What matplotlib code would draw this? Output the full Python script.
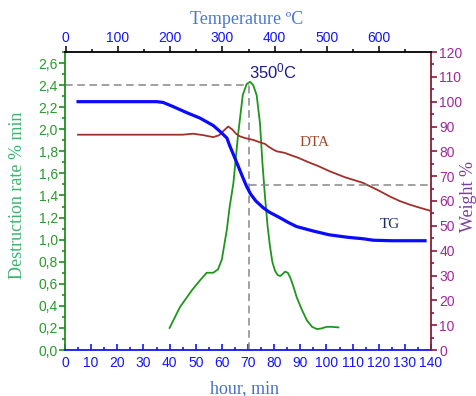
import matplotlib.pyplot as plt
from matplotlib.ticker import MultipleLocator, FuncFormatter

plt.rcParams['font.family'] = 'Liberation Sans'
plt.rcParams['mathtext.fontset'] = 'custom'
plt.rcParams['mathtext.rm'] = 'Liberation Sans'
plt.rcParams['mathtext.it'] = 'Liberation Sans'

# destruction rate (left axis) vs hour
rate_t = [40, 44, 48.5, 51.6, 54.2, 56.7, 58.5, 60, 61.9, 63, 64.4, 66.2, 68, 69.5,
          70.8, 72, 73.3, 74.6, 75.5, 76.5, 77.5, 78.4, 79.3, 80.3, 81.3, 82.3, 83.3,
          84.2, 85.2, 86.1, 87.3, 88.6, 90.5, 92.5, 94.5, 96.3, 98, 100.1, 102, 104.6]
rate_v = [0.2, 0.39, 0.54, 0.63, 0.70, 0.70, 0.73, 0.82, 1.09, 1.3, 1.51, 1.95, 2.31, 2.41,
          2.43, 2.40, 2.31, 2.05, 1.7, 1.39, 1.12, 0.94, 0.8, 0.72, 0.68, 0.67, 0.69,
          0.71, 0.70, 0.66, 0.58, 0.48, 0.37, 0.27, 0.21, 0.19, 0.195, 0.21, 0.21, 0.205]

# TG weight % (right axis)
tg_t = [5, 35, 37.5, 41.4, 46.5, 51.6, 56.7, 59.3, 61.9, 63.1, 64.5, 66.3, 68, 69.5, 71,
        73, 75.8, 78, 82.3, 85.5, 88.6, 95, 101, 108, 114, 118, 125, 137.7]
tg_v = [100, 100, 99.7, 98, 95.6, 93.4, 90.4, 88, 85.4, 82, 78.5, 73.9, 69.5, 65.8, 62.8,
        60, 57.3, 55.6, 53.2, 51.3, 49.7, 47.9, 46.4, 45.4, 44.8, 44.2, 44, 44]

# DTA curve (drawn on the right scale)
dta_t = [5, 45, 49, 53, 56.7, 59, 61, 62.4, 64, 65.5, 67, 69, 72, 74.6, 76.5, 77.7, 79.5,
         81, 84, 86, 89, 92.5, 97, 101.4, 107, 114, 120, 124.3, 128, 132, 136, 140]
dta_v = [86.7, 86.7, 87.1, 86.5, 85.7, 86.5, 88.6, 90, 88.8, 87, 86, 85.3, 84.6, 83.6, 83,
         82, 80.8, 80, 79.4, 78.6, 77.5, 75.9, 74, 71.9, 69.6, 67.3, 64.2, 61.8, 60, 58.5,
         57.2, 56]

peak_t = 70.5
peak_rate = 2.40
peak_weight = 66.5

GREEN = '#1f8f1f'
BLUE = '#1414ff'
MAROON = '#8b1a3a'
PURPLE = '#a0289a'

fig = plt.figure(figsize=(4.76, 3.96), dpi=100)
ax = fig.add_axes([65 / 476, 46 / 396, 366 / 476, 298 / 396])
ax2 = ax.twinx()
ax3 = ax.twiny()

ax.plot(rate_t, rate_v, color='#1e961e', lw=1.3)
ax.plot([0, peak_t], [peak_rate, peak_rate], color='#888888', lw=1.1, ls=(0, (5, 3)))
ax.plot([peak_t, peak_t], [0, peak_rate], color='#888888', lw=1.1, ls=(0, (5, 3)))

ax2.plot(dta_t, dta_v, color='#a0302a', lw=1.3)
ax2.plot(tg_t, tg_v, color='#0a0aff', lw=2.3)
ax2.plot([peak_t, 140], [peak_weight, peak_weight], color='#888888', lw=1.1, ls=(0, (5, 3)))

ax.set_xlim(0, 140)
ax.set_ylim(0, 2.7)
ax2.set_ylim(0, 120)
ax3.set_xlim(-1, 699)

ax.xaxis.set_major_locator(MultipleLocator(10))
ax.xaxis.set_minor_locator(MultipleLocator(5))
ax.yaxis.set_major_locator(MultipleLocator(0.2))
ax.yaxis.set_minor_locator(MultipleLocator(0.1))
ax.yaxis.set_major_formatter(FuncFormatter(lambda v, p: f'{v:.1f}'.replace('.', ',')))
ax2.yaxis.set_major_locator(MultipleLocator(10))
ax2.yaxis.set_minor_locator(MultipleLocator(5))
ax3.xaxis.set_major_locator(MultipleLocator(100))
ax3.xaxis.set_minor_locator(MultipleLocator(50))

for a in (ax, ax2, ax3):
    for s in a.spines.values():
        s.set_visible(False)
ax.spines['left'].set_visible(True)
ax.spines['left'].set_color(GREEN)
ax.spines['bottom'].set_visible(True)
ax.spines['bottom'].set_color(BLUE)
ax2.spines['right'].set_visible(True)
ax2.spines['right'].set_color(MAROON)
ax3.spines['top'].set_visible(True)
ax3.spines['top'].set_color('black')
for s in (ax.spines['left'], ax.spines['bottom'], ax2.spines['right'], ax3.spines['top']):
    s.set_linewidth(1.3)

ax.tick_params(axis='y', which='both', direction='out', color=GREEN, labelcolor='#2a9a2a',
               labelsize=10, width=1.2, pad=1)
ax.tick_params(axis='y', which='major', length=4)
ax.tick_params(axis='y', which='minor', length=2.5)
ax.tick_params(axis='x', which='both', direction='in', color=BLUE, labelcolor=BLUE,
               labelsize=10, width=1.2, pad=4)
ax.tick_params(axis='x', which='major', length=4)
ax.tick_params(axis='x', which='minor', length=2.5)
ax2.tick_params(axis='y', which='both', direction='out', color=MAROON, labelcolor=PURPLE,
                labelsize=10, width=1.2, pad=2)
ax2.tick_params(axis='y', which='major', length=4)
ax2.tick_params(axis='y', which='minor', length=2.5)
ax3.tick_params(axis='x', which='both', direction='out', color='black', labelcolor=BLUE,
                labelsize=10, width=1.1, pad=1)
ax3.tick_params(axis='x', which='major', length=4)
ax3.tick_params(axis='x', which='minor', length=2.5)

ax.text(79.6, 2.52, '350$^0$C', color='#1a1a8a', fontsize=12, ha='center', va='center')
ax2.text(95.6, 83.5, 'DTA', color='#a04a30', fontsize=11, family='Liberation Serif',
         ha='center', va='center')
ax2.text(124.3, 50.4, 'TG', color='#1a2a6a', fontsize=11, family='Liberation Serif',
         ha='center', va='center')

fig.text(247 / 476, 1 - 19 / 396, 'Temperature ºC', color='#4a78d0', fontsize=13,
         family='Liberation Serif', ha='center', va='center')
fig.text(245 / 476, 1 - 389 / 396, 'hour, min', color='#4a70c8', fontsize=13,
         family='Liberation Serif', ha='center', va='center')
fig.text(18 / 476, 201 / 396, 'Destruction rate % min', color='#3cb371', fontsize=13,
         family='Liberation Serif', rotation=90, ha='center', va='center')
fig.text(460 / 476, 200 / 396, 'Weight %', color='#7b3f9f', fontsize=13,
         family='Liberation Serif', rotation=90, ha='left', va='center')

fig.savefig('out.png', dpi=100)
